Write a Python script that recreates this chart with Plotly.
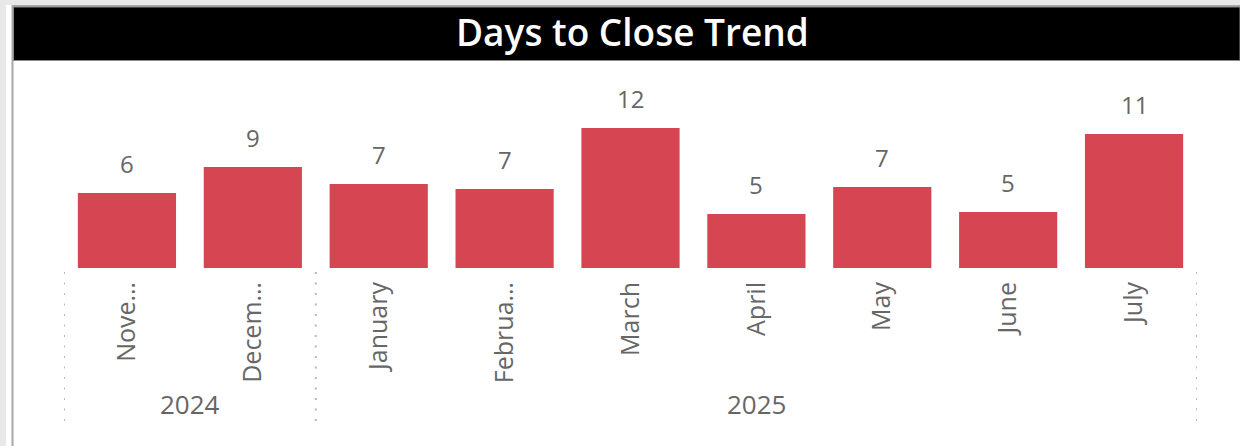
import plotly.graph_objects as go

W, H = 1240, 446

months = ["Nove…", "Decem…", "January", "Februa…", "March", "April", "May", "June", "July"]
days_to_close = [6.43, 8.65, 7.2, 6.77, 12.0, 4.63, 6.94, 4.8, 11.48]
years = ["2024", "2025"]
year_spans = [(0, 1), (2, 8)]  # month index range per year
year_bounds = [-0.5, 1.5, 8.5]

BAR = "#D64552"
GRAY_TXT = "#666666"


def px(x):
    return x / W


def py(y):
    return 1 - y / H


fig = go.Figure()
fig.add_trace(go.Bar(
    x=list(range(len(months))),
    y=days_to_close,
    marker=dict(color=BAR, line=dict(width=0)),
    hoverinfo="skip",
))

annotations = []
# data labels
for i, v in enumerate(days_to_close):
    annotations.append(dict(
        x=i, y=v, xref="x", yref="y", text=f"{round(v):d}", showarrow=False,
        yanchor="bottom", yshift=11,
        font=dict(family="Open Sans", size=24, color=GRAY_TXT),
    ))
# year labels
for yr, (a, b) in zip(years, year_spans):
    annotations.append(dict(
        x=(a + b) / 2, y=py(404), xref="x", yref="paper", text=yr, showarrow=False,
        yanchor="middle", xanchor="center",
        font=dict(family="Open Sans", size=26, color=GRAY_TXT),
    ))
# title
annotations.append(dict(
    x=px(632), y=py(32), xref="paper", yref="paper", text="Days to Close Trend",
    showarrow=False, xanchor="center", yanchor="middle",
    font=dict(family="Open Sans", size=37, color="white", weight=600),
))

shapes = [
    # outer light gray background bands
    dict(type="rect", xref="paper", yref="paper", x0=0, x1=1, y0=0, y1=1,
         fillcolor="#E8E8E8", line=dict(width=0), layer="below"),
    dict(type="rect", xref="paper", yref="paper", x0=px(6), x1=1, y0=0, y1=py(5),
         fillcolor="white", line=dict(width=0), layer="below"),
    # visual border
    dict(type="rect", xref="paper", yref="paper", x0=px(12.5), x1=px(1250), y0=py(460), y1=py(6),
         fillcolor="white", line=dict(color="#A8A8A8", width=2), layer="below"),
    # black title bar
    dict(type="rect", xref="paper", yref="paper", x0=px(13.5), x1=1, y0=py(60.5), y1=py(7),
         fillcolor="black", line=dict(color="#8A8A8A", width=1), layer="below"),
]
for xb in year_bounds:
    shapes.append(dict(type="line", xref="x", yref="paper", x0=xb, x1=xb,
                       y0=py(272), y1=py(426),
                       line=dict(color="#B8B8B8", width=2, dash="2px,8.5px")))

fig.update_layout(
    width=W, height=H,
    margin=dict(l=0, r=0, t=0, b=0),
    paper_bgcolor="white", plot_bgcolor="rgba(0,0,0,0)",
    showlegend=False,
    bargap=0.22,
    xaxis=dict(
        domain=[px(64), px(1197)],
        range=[-0.5, len(months) - 0.5],
        tickmode="array", tickvals=list(range(len(months))), ticktext=months,
        tickangle=-90, ticks="", showgrid=False, zeroline=False, showline=False,
        ticklabelstandoff=8,
        tickfont=dict(family="Open Sans", size=25, color=GRAY_TXT),
        automargin=False, fixedrange=True,
    ),
    yaxis=dict(
        domain=[py(268), py(93)],
        range=[0, 15],
        visible=False, showgrid=False, zeroline=False, fixedrange=True,
    ),
    annotations=annotations,
    shapes=shapes,
)

fig.write_html(
    "out.html",
    config={"displayModeBar": False},
    post_script="document.body.style.margin='0';document.body.style.overflow='hidden';",
)
